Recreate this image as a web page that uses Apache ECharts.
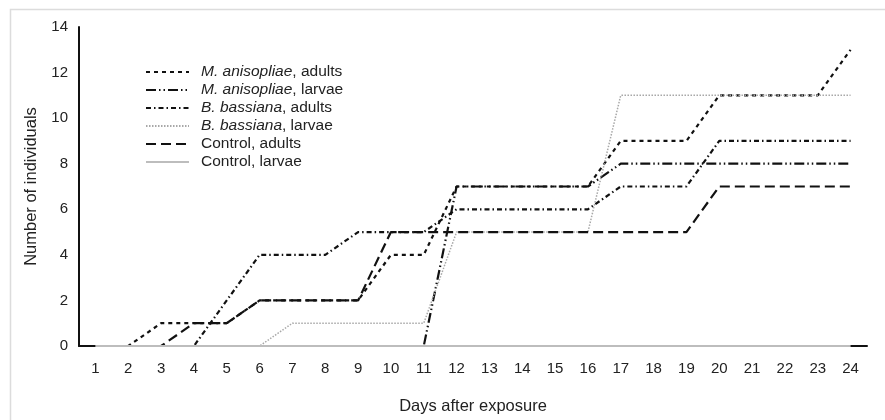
<!DOCTYPE html>
<html>
<head>
<meta charset="utf-8">
<script src="https://cdn.jsdelivr.net/npm/echarts@6/dist/echarts.min.js"></script>
<style>
  html, body { margin: 0; padding: 0; background: #fff; }
  #chart { width: 885px; height: 420px; }
</style>
</head>
<body>
<div id="chart"></div>
<script>
  var days = ['1','2','3','4','5','6','7','8','9','10','11','12','13','14','15','16','17','18','19','20','21','22','23','24'];

  var maAdults   = [0,0,1,1,1,2,2,2,2,4,4,7,7,7,7,7,9,9,9,11,11,11,11,13];
  var maLarvae   = [0,0,0,0,0,0,0,0,0,0,0,7,7,7,7,7,8,8,8,8,8,8,8,8];
  var bbAdults   = [0,0,0,0,2,4,4,4,5,5,5,6,6,6,6,6,7,7,7,9,9,9,9,9];
  var bbLarvae   = [0,0,0,0,0,0,1,1,1,1,1,5,5,5,5,5,11,11,11,11,11,11,11,11];
  var ctrlAdults = [0,0,0,1,1,2,2,2,2,5,5,5,5,5,5,5,5,5,5,7,7,7,7,7];
  var ctrlLarvae = [0,0,0,0,0,0,0,0,0,0,0,0,0,0,0,0,0,0,0,0,0,0,0,0];

  var species = ['M. anisopliae', 'M. anisopliae', 'B. bassiana', 'B. bassiana', '', ''];
  var names = ['M. anisopliae, adults', 'M. anisopliae, larvae', 'B. bassiana, adults',
               'B. bassiana, larvae', 'Control, adults', 'Control, larvae'];

  var font = '"Liberation Sans", Arial, sans-serif';

  function line(name, data, color, width, dash) {
    return {
      name: name,
      type: 'line',
      data: data,
      symbol: 'none',
      animation: false,
      lineStyle: { color: color, width: width, type: dash },
      itemStyle: { color: color }
    };
  }

  var chart = echarts.init(document.getElementById('chart'));

  var option = {
    backgroundColor: '#fff',
    graphic: [{
      type: 'rect',
      left: 8, top: 7,
      shape: { width: 890, height: 420 },
      style: { fill: 'none', stroke: '#dcdcdc', lineWidth: 1.5 },
      silent: true,
      z: -10
    }],
    grid: { left: 79, right: 18, top: 27, bottom: 69 },
    legend: {
      orient: 'vertical',
      left: 140,
      top: 59,
      itemWidth: 43,
      itemHeight: 14,
      itemGap: 2,
      data: names,
      itemStyle: { opacity: 0 },
      formatter: function (n) {
        var i = names.indexOf(n);
        if (species[i]) {
          return '{i|' + species[i] + '}' + n.slice(species[i].length);
        }
        return n;
      },
      textStyle: {
        fontFamily: font, fontSize: 15.5, color: '#222', padding: [0, 0, 0, 7],
        rich: { i: { fontFamily: font, fontSize: 15.5, color: '#222', fontStyle: 'italic' } }
      }
    },
    xAxis: {
      type: 'category',
      data: days,
      boundaryGap: true,
      name: 'Days after exposure',
      nameLocation: 'middle',
      nameGap: 52,
      nameTextStyle: { fontFamily: font, fontSize: 16.5, color: '#222' },
      axisLine: { lineStyle: { color: '#111', width: 2 } },
      axisTick: { show: false },
      axisLabel: { fontFamily: font, fontSize: 15, color: '#222', margin: 15, interval: 0 }
    },
    yAxis: {
      type: 'value',
      min: 0, max: 14, interval: 2,
      name: 'Number of individuals',
      nameLocation: 'middle',
      nameGap: 29,
      nameTextStyle: { fontFamily: font, fontSize: 16.5, color: '#222' },
      axisLine: { show: true, lineStyle: { color: '#111', width: 2 } },
      axisTick: { show: false },
      splitLine: { show: false },
      axisLabel: { fontFamily: font, fontSize: 15, color: '#222', margin: 11 }
    },
    series: [
      line(names[0], maAdults, '#111', 2.2, [4, 4]),
      line(names[1], maLarvae, '#111', 2.2, [10, 3, 1.5, 3, 1.5, 3]),
      line(names[2], bbAdults, '#111', 2.2, [5, 3, 1.5, 3]),
      line(names[3], bbLarvae, '#a8a8a8', 1.5, [1.5, 1.5]),
      line(names[4], ctrlAdults, '#111', 2.2, [10, 5]),
      line(names[5], ctrlLarvae, '#bdbdbd', 2, 'solid')
    ]
  };

  chart.setOption(option);
</script>
</body>
</html>
